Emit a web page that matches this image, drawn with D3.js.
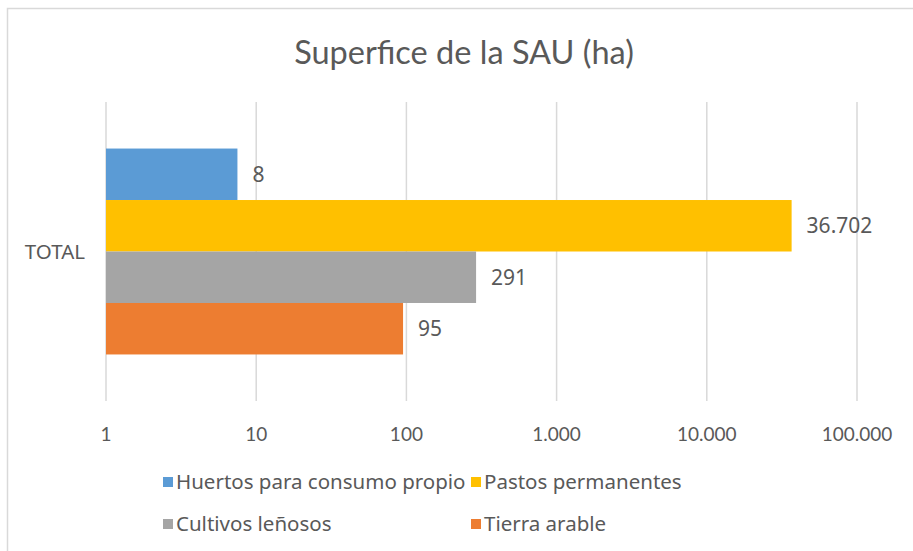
<!DOCTYPE html>
<html>
<head>
<meta charset="utf-8">
<script src="https://cdn.jsdelivr.net/npm/d3@7"></script>
<style>
  body { margin: 0; background: #fff; }
  text { fill: #595959; }
</style>
</head>
<body>
<script>
var categories = ["TOTAL"];
var seriesNames = ["Huertos para consumo propio", "Pastos permanentes", "Cultivos leñosos", "Tierra arable"];
var seriesValues = [7.5, 36702, 291, 95];
var seriesColors = ["#5b9bd5", "#ffc000", "#a5a5a5", "#ed7d31"];
var tickValues = [1, 10, 100, 1000, 10000, 100000];

var width = 913,
    height = 551,
    fmt = d3.formatLocale({decimal: ",", thousands: ".", grouping: [3], currency: ["", "€"]}).format(",.0f");

var svg = d3.select("body")
    .append("svg")
    .attr("width", width)
    .attr("height", height);

// chart border
svg.append("rect")
    .attr("x", 7.5).attr("y", 8.5)
    .attr("width", width + 10).attr("height", height + 10)
    .attr("fill", "none")
    .attr("stroke", "#d9d9d9")
    .attr("stroke-width", 1.5);

svg.append("text")
    .attr("x", 464).attr("y", 64)
    .attr("text-anchor", "middle")
    .style("font-family", "Lato")
    .style("font-size", "32.5px")
    .text("Superfice de la SAU (ha)");

var x = d3.scaleLog()
    .domain([1, 100000])
    .range([106, 857]);

var y0 = d3.scaleBand()
    .domain(categories)
    .range([102, 401])
    .paddingInner(0)
    .paddingOuter(0.226);

var y1 = d3.scaleBand()
    .domain(seriesNames)
    .range([0, y0.bandwidth()]);

// gridlines
svg.append("g")
    .selectAll("line")
    .data(tickValues)
    .enter()
    .append("line")
    .attr("x1", function(d) { return x(d); })
    .attr("x2", function(d) { return x(d); })
    .attr("y1", 102)
    .attr("y2", 401)
    .attr("stroke", "#d9d9d9")
    .attr("stroke-width", 1.5);

// tick labels
svg.append("g")
    .selectAll("text")
    .data(tickValues)
    .enter()
    .append("text")
    .attr("x", function(d) { return x(d); })
    .attr("y", 441)
    .attr("text-anchor", "middle")
    .style("font-family", "Lato")
    .style("font-size", "19px")
    .text(function(d) { return fmt(d); });

// category label
svg.append("g")
    .selectAll("text")
    .data(categories)
    .enter()
    .append("text")
    .attr("x", 85)
    .attr("y", function(d) { return y0(d) + y0.bandwidth() / 2; })
    .attr("dy", ".35em")
    .attr("text-anchor", "end")
    .style("font-family", "Noto Sans")
    .style("font-size", "20.5px")
    .text(function(d) { return d; });

var rows = seriesNames.map(function(name, i) {
    return {name: name, value: seriesValues[i], color: seriesColors[i], cat: categories[0]};
});

var bars = svg.append("g");

bars.selectAll("rect")
    .data(rows)
    .enter()
    .append("rect")
    .attr("x", x(1))
    .attr("y", function(d) { return y0(d.cat) + y1(d.name); })
    .attr("width", function(d) { return x(d.value) - x(1); })
    .attr("height", y1.bandwidth())
    .attr("fill", function(d) { return d.color; });

bars.selectAll("text")
    .data(rows)
    .enter()
    .append("text")
    .attr("x", function(d) { return x(d.value) + 15; })
    .attr("y", function(d) { return y0(d.cat) + y1(d.name) + y1.bandwidth() / 2; })
    .attr("dy", ".35em")
    .style("font-family", "Noto Sans")
    .style("font-size", "21px")
    .text(function(d) { return fmt(d.value); });

// legend
var legendPos = [[163, 482], [471, 482], [163, 524], [471, 524]];

var legend = svg.append("g")
    .selectAll("g")
    .data(rows)
    .enter()
    .append("g")
    .attr("transform", function(d, i) {
        return "translate(" + legendPos[i][0] + "," + legendPos[i][1] + ")";
    });

legend.append("rect")
    .attr("x", 0).attr("y", -5)
    .attr("width", 10).attr("height", 10)
    .attr("fill", function(d) { return d.color; });

legend.append("text")
    .attr("x", 13)
    .attr("dy", ".35em")
    .style("font-family", "Noto Sans")
    .style("font-size", "20.5px")
    .text(function(d) { return d.name; });
</script>
</body>
</html>
